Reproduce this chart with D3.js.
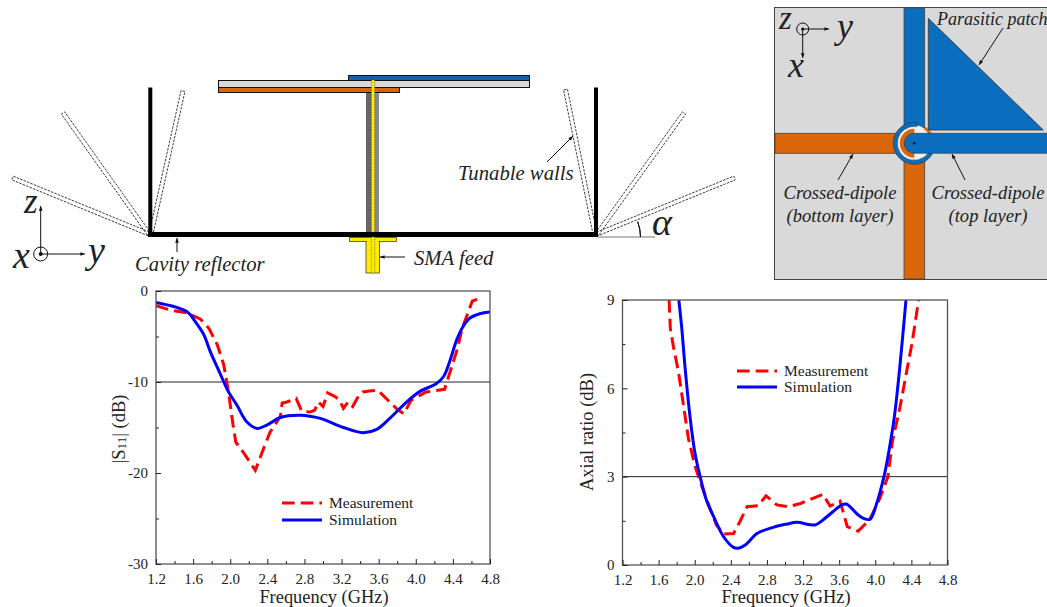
<!DOCTYPE html>
<html>
<head>
<meta charset="utf-8">
<script src="https://cdn.jsdelivr.net/npm/d3@7"></script>
<style>
  html, body { margin: 0; padding: 0; background: #fff; }
  svg { display: block; }
  text { font-family: "Liberation Serif", serif; fill: #222; }
  .ital { font-style: italic; }
</style>
</head>
<body>
<svg id="fig" width="1047" height="607"></svg>
<script>
// ==========================================
// DATA
// ==========================================
const s11SimFreq = [1.2, 1.535, 1.625, 1.715, 1.785, 1.89, 1.98, 2.07, 2.18, 2.29, 2.4, 2.54, 2.76, 2.97, 3.22, 3.43, 3.58, 3.72, 3.9, 4.05, 4.22, 4.3, 4.37, 4.44, 4.51, 4.58, 4.69, 4.8];
const s11SimDb = [-1.25, -2.27, -3.4, -4.8, -6.67, -9.05, -11.06, -12.5, -14.4, -15.1, -14.7, -13.9, -13.65, -14, -15, -15.57, -15.2, -14, -12.2, -11, -10.2, -9.4, -7.6, -5.4, -3.9, -3, -2.5, -2.3];
const s11MeasFreq = [1.2, 1.355, 1.535, 1.68, 1.77, 1.86, 1.93, 1.98, 2.03, 2.06, 2.16, 2.27, 2.36, 2.43, 2.54, 2.56, 2.61, 2.71, 2.77, 2.86, 2.91, 2.95, 3.0, 3.05, 3.13, 3.18, 3.22, 3.27, 3.32, 3.38, 3.43, 3.5, 3.59, 3.7, 3.79, 3.87, 3.95, 4.11, 4.31, 4.36, 4.45, 4.5, 4.58, 4.61, 4.7];
const s11MeasDb = [-1.6, -2.1, -2.4, -3.1, -4.1, -5.9, -8.1, -11, -14.7, -16.6, -18, -19.7, -17.3, -15.5, -13.8, -12.3, -12.2, -11.8, -13.2, -13.3, -13.1, -12.2, -12.7, -11.2, -11.6, -12, -12.9, -12.2, -12.7, -11.6, -11.1, -11, -10.9, -12, -12.9, -13.5, -12, -11.1, -10.8, -9.2, -6.3, -4.1, -1.9, -1.1, -0.8];

const arSimFreq = [1.824, 1.857, 1.894, 1.95, 2.0, 2.06, 2.13, 2.21, 2.32, 2.43, 2.48, 2.56, 2.69, 2.87, 3.02, 3.13, 3.33, 3.42, 3.53, 3.63, 3.68, 3.73, 3.81, 3.86, 3.94, 4.01, 4.1, 4.15, 4.21, 4.27, 4.34];
const arSimDb = [9, 8.03, 6.67, 4.98, 3.85, 3, 2.2, 1.64, 0.96, 0.6, 0.57, 0.68, 1.07, 1.28, 1.39, 1.45, 1.36, 1.53, 1.81, 2.04, 2.07, 1.95, 1.7, 1.6, 1.55, 2.04, 3.05, 3.85, 5, 6.67, 9];
const arMeasFreq = [1.716, 1.73, 1.765, 1.82, 1.875, 1.93, 2.0, 2.06, 2.17, 2.24, 2.325, 2.43, 2.5, 2.58, 2.7, 2.79, 2.91, 3.04, 3.17, 3.42, 3.5, 3.61, 3.69, 3.81, 3.94, 4.05, 4.14, 4.19, 4.27, 4.34, 4.41, 4.47, 4.48];
const arMeasDb = [9, 8.03, 7.4, 6.56, 5.43, 4.3, 3.39, 2.83, 1.92, 1.36, 1.05, 1.07, 1.47, 1.98, 2.01, 2.35, 2.04, 1.98, 2.09, 2.4, 2, 2.17, 1.3, 1.15, 1.55, 2.26, 3, 4.2, 5.3, 6.45, 7.58, 8.8, 9];

const freqTicks = [1.2, 1.6, 2.0, 2.4, 2.8, 3.2, 3.6, 4.0, 4.4, 4.8];
const freqMinorTicks = [1.4, 1.8, 2.2, 2.6, 3.0, 3.4, 3.8, 4.2, 4.6];
const s11Ticks = [0, -10, -20, -30];
const s11MinorTicks = [-5, -15, -25];
const arTicks = [0, 3, 6, 9];
const arMinorTicks = [1.5, 4.5, 7.5];
const legendLabels = ['Measurement', 'Simulation'];

const RED = '#ff0000', BLUE = '#0000ff', AXIS = '#555';
const PCB_BLUE = '#0a6dbd', PCB_ORANGE = '#d9660a', PCB_GREY = '#d9d9d9';

const svg = d3.select('#fig');
let clipId = 0;

// ==========================================
// SHARED HELPERS
// ==========================================
function label(g, x, y, str, size, opts = {}) {
  return g.append('text')
    .attr('x', x).attr('y', y)
    .attr('font-size', size)
    .attr('class', opts.plain ? null : 'ital')
    .attr('text-anchor', opts.anchor || 'start')
    .text(str);
}

function arrow(g, x1, y1, x2, y2, size = 5) {
  const a = Math.atan2(y2 - y1, x2 - x1);
  g.append('line')
    .attr('x1', x1).attr('y1', y1).attr('x2', x2).attr('y2', y2)
    .attr('stroke', '#111').attr('stroke-width', 1);
  const pts = [
    [x2, y2],
    [x2 - size * Math.cos(a - 0.38), y2 - size * Math.sin(a - 0.38)],
    [x2 - size * Math.cos(a + 0.38), y2 - size * Math.sin(a + 0.38)]
  ];
  g.append('polygon').attr('points', pts.join(' ')).attr('fill', '#111');
}

function originMark(g, cx, cy, r, dot) {
  g.append('circle').attr('cx', cx).attr('cy', cy).attr('r', r)
    .attr('fill', 'none').attr('stroke', '#111').attr('stroke-width', 1);
  g.append('circle').attr('cx', cx).attr('cy', cy).attr('r', dot).attr('fill', '#111');
}

// ==========================================
// CHARTS
// ==========================================
function drawChart(o) {
  const g = svg.append('g');
  const x = d3.scaleLinear().domain([1.2, 4.8]).range([o.left, o.right]);
  const y = d3.scaleLinear().domain(o.domain).range([o.bottom, o.top]);

  // curves first, the frame sits on top of them
  const id = 'clip' + (clipId++);
  g.append('clipPath').attr('id', id).append('rect')
    .attr('x', o.left).attr('y', o.top)
    .attr('width', o.right - o.left).attr('height', o.bottom - o.top);

  const measLine = d3.line()
    .x(d => x(d[0])).y(d => y(d[1]));
  const simLine = d3.line()
    .x(d => x(d[0])).y(d => y(d[1]))
    .curve(d3.curveCatmullRom.alpha(0.5));

  const plot = g.append('g').attr('clip-path', `url(#${id})`);
  plot.append('line')
    .attr('x1', x(1.2)).attr('x2', x(4.8))
    .attr('y1', y(o.refLine)).attr('y2', y(o.refLine))
    .attr('stroke', '#222').attr('stroke-width', 1);
  plot.append('path')
    .attr('d', measLine(d3.zip(o.measFreq, o.meas)))
    .attr('fill', 'none').attr('stroke', RED)
    .attr('stroke-width', 3).attr('stroke-dasharray', '12.7 6');
  plot.append('path')
    .attr('d', simLine(d3.zip(o.simFreq, o.sim)))
    .attr('fill', 'none').attr('stroke', BLUE).attr('stroke-width', 3);

  // frame
  g.append('rect')
    .attr('x', o.left).attr('y', o.top)
    .attr('width', o.right - o.left).attr('height', o.bottom - o.top)
    .attr('fill', 'none').attr('stroke', AXIS).attr('stroke-width', 1.3);

  // axes
  const xAxis = g.append('g').attr('transform', `translate(0,${o.bottom})`)
    .call(d3.axisBottom(x).tickValues(freqTicks).tickFormat(d3.format('.1f')).tickSize(-5).tickPadding(9));
  const xMinor = g.append('g').attr('transform', `translate(0,${o.bottom})`)
    .call(d3.axisBottom(x).tickValues(freqMinorTicks).tickFormat('').tickSize(-3));
  const yAxis = g.append('g').attr('transform', `translate(${o.left},0)`)
    .call(d3.axisLeft(y).tickValues(o.ticks).tickFormat(d => String(d)).tickSize(-5).tickPadding(8));
  const yMinor = g.append('g').attr('transform', `translate(${o.left},0)`)
    .call(d3.axisLeft(y).tickValues(o.minorTicks).tickFormat('').tickSize(-3));

  [xAxis, xMinor, yAxis, yMinor].forEach(a => {
    a.select('.domain').remove();
    a.selectAll('line').attr('stroke', '#222').attr('stroke-width', 1);
    a.selectAll('text')
      .attr('font-family', '"Liberation Serif", serif')
      .attr('font-size', 15).attr('fill', '#222');
  });

  // axis titles
  g.append('text')
    .attr('x', (o.left + o.right) / 2 + 1).attr('y', o.xTitleY)
    .attr('text-anchor', 'middle').attr('font-size', 18.4)
    .text('Frequency (GHz)');

  const yTitle = g.append('text')
    .attr('transform', `translate(${o.yTitleX},${o.yTitleY}) rotate(-90)`)
    .attr('text-anchor', 'middle').attr('font-size', 18.5);
  o.yTitle.forEach(part => {
    yTitle.append('tspan')
      .attr('font-size', part.small ? 13 : 18.5)
      .attr('baseline-shift', part.small ? '-1' : null)
      .text(part.t);
  });

  // legend
  const styles = [
    { color: RED, dash: '12.7 6' },
    { color: BLUE, dash: null }
  ];
  legendLabels.forEach((name, i) => {
    const ly = o.legendY[i];
    g.append('line')
      .attr('x1', o.legendX).attr('x2', o.legendX + 40)
      .attr('y1', ly).attr('y2', ly)
      .attr('stroke', styles[i].color).attr('stroke-width', 3)
      .attr('stroke-dasharray', styles[i].dash);
    g.append('text')
      .attr('x', o.legendX + 47).attr('y', ly + 5)
      .attr('font-size', 15.5)
      .text(name);
  });
}

drawChart({
  left: 156, right: 490, top: 291, bottom: 564,
  domain: [-30, 0],
  ticks: s11Ticks, minorTicks: s11MinorTicks, refLine: -10,
  simFreq: s11SimFreq, sim: s11SimDb,
  measFreq: s11MeasFreq, meas: s11MeasDb,
  xTitleY: 603, yTitleX: 125, yTitleY: 429,
  yTitle: [{ t: '|S' }, { t: '11', small: true }, { t: '| (dB)' }],
  legendX: 282, legendY: [503, 520]
});

drawChart({
  left: 622.5, right: 947.5, top: 300, bottom: 565,
  domain: [0, 9],
  ticks: arTicks, minorTicks: arMinorTicks, refLine: 3,
  simFreq: arSimFreq, sim: arSimDb,
  measFreq: arMeasFreq, meas: arMeasDb,
  xTitleY: 603, yTitleX: 593, yTitleY: 432,
  yTitle: [{ t: 'Axial ratio (dB)' }],
  legendX: 737, legendY: [371, 387]
});

// ==========================================
// SIDE VIEW SCHEMATIC
// ==========================================
function drawSideView() {
  const g = svg.append('g');

  const rect = (x0, y0, x1, y1, fill, stroke = 'none', sw = 1) =>
    g.append('rect')
      .attr('x', x0).attr('y', y0).attr('width', x1 - x0).attr('height', y1 - y0)
      .attr('fill', fill).attr('stroke', stroke).attr('stroke-width', sw);

  // dashed tilted walls, each from its hinge to its tip
  const wall = (px, py, tx, ty) => {
    const len = Math.hypot(tx - px, ty - py);
    const ang = Math.atan2(ty - py, tx - px) * 180 / Math.PI;
    g.append('rect')
      .attr('x', 0).attr('y', -2).attr('width', len).attr('height', 4)
      .attr('transform', `translate(${px},${py}) rotate(${ang})`)
      .attr('fill', 'none').attr('stroke', '#222')
      .attr('stroke-width', 0.8).attr('stroke-dasharray', '2.5 1.2');
  };
  wall(151, 234, 183, 91);
  wall(149, 234, 63, 113);
  wall(149, 234, 12.5, 178);
  wall(595, 234, 565.5, 89.5);
  wall(597, 234, 684, 113);
  wall(597, 234, 734.5, 178);

  // reflector and fixed walls
  rect(148, 232, 598, 237, '#000');
  rect(148.3, 87.5, 152.3, 236, '#000');
  rect(594, 87.5, 598, 236, '#000');

  // angle marker on the right side
  g.append('line')
    .attr('x1', 597).attr('x2', 655).attr('y1', 237).attr('y2', 237)
    .attr('stroke', '#777').attr('stroke-width', 1);
  g.append('path')
    .attr('d', d3.arc()({ innerRadius: 43.5, outerRadius: 43.5, startAngle: Math.PI / 2 - 0.36, endAngle: Math.PI / 2 }))
    .attr('transform', 'translate(597,237)')
    .attr('fill', 'none').attr('stroke', '#111').attr('stroke-width', 1);

  // coax post
  rect(366, 92, 372, 232, '#666');
  rect(372, 92, 379, 232, '#8a8a8a');

  // boards
  rect(218.5, 80.5, 529.5, 87.5, PCB_GREY, '#111', 1);
  rect(348.5, 75.5, 529.5, 80.5, '#1b5fa8', '#111', 1);
  rect(218.5, 87.5, 399.5, 92.5, PCB_ORANGE, '#111', 1);

  // inner conductor
  rect(371.3, 80, 374.7, 232, '#ffec00', '#222', 0.5).attr('stroke-dasharray', '1.5 1');

  // SMA feed
  rect(366, 241, 379.5, 273, '#ffec00', '#444', 0.8);
  rect(349.5, 237.5, 396.5, 241.5, '#ffec00', '#444', 0.8);
  rect(367, 240, 378.5, 243, '#ffec00');
  rect(371.3, 237, 374.7, 273, '#ffec00', '#444', 0.5).attr('stroke-dasharray', '1.5 1');

  // annotations
  arrow(g, 405, 257, 380, 257);
  label(g, 414, 265, 'SMA feed', 20.7);
  arrow(g, 547, 162, 573, 136);
  label(g, 458, 180, 'Tunable walls', 20.7);
  arrow(g, 177, 252, 177, 238);
  label(g, 135, 271, 'Cavity reflector', 20.7);
  label(g, 652, 235, 'α', 38);

  // coordinate system
  arrow(g, 40.7, 254, 40.7, 206);
  arrow(g, 40.7, 254, 85, 254);
  originMark(g, 40.7, 254, 7, 2);
  label(g, 24, 213, 'z', 35);
  label(g, 13, 268, 'x', 38);
  label(g, 88, 263, 'y', 38);
}

// ==========================================
// TOP VIEW SCHEMATIC
// ==========================================
function drawTopView() {
  const g = svg.append('g');
  const cx = 914.3, cy = 143.3;

  g.append('rect')
    .attr('x', 774.5).attr('y', 7.5).attr('width', 280).attr('height', 272)
    .attr('fill', PCB_GREY).attr('stroke', '#444').attr('stroke-width', 1);

  const bar = (x0, y0, x1, y1, fill) =>
    g.append('rect')
      .attr('x', x0).attr('y', y0).attr('width', x1 - x0).attr('height', y1 - y0)
      .attr('fill', fill).attr('stroke', '#444').attr('stroke-width', 0.8);

  // bottom layer dipole
  bar(775, 133.3, 910, 153.3, PCB_ORANGE);
  bar(904, 150, 924.7, 279, PCB_ORANGE);

  // top layer vertical arm
  bar(904, 8, 924.7, 135, PCB_BLUE);

  // slot in the feed
  g.append('circle').attr('cx', cx).attr('cy', cy).attr('r', 18).attr('fill', '#f0f0f0');
  g.append('path')
    .attr('d', d3.arc()({ innerRadius: 0, outerRadius: 14.5, startAngle: Math.PI, endAngle: 2 * Math.PI }))
    .attr('transform', `translate(${cx},${cy})`)
    .attr('fill', PCB_ORANGE);
  g.append('path')
    .attr('d', d3.arc()({ innerRadius: 17, outerRadius: 20, startAngle: 0.6, endAngle: 1.25 }))
    .attr('transform', `translate(${cx},${cy})`)
    .attr('fill', PCB_ORANGE);

  // ring and top layer horizontal arm with its rounded end
  g.append('path')
    .attr('d', d3.arc()({ innerRadius: 17, outerRadius: 21, startAngle: Math.PI / 2 + 0.25, endAngle: 2 * Math.PI + 0.15 }))
    .attr('transform', `translate(${cx},${cy})`)
    .attr('fill', PCB_BLUE).attr('stroke', '#333').attr('stroke-width', 0.6);
  const arm = d3.path();
  arm.moveTo(1060, cy - 10);
  arm.lineTo(cx, cy - 10);
  arm.arc(cx, cy, 10, -Math.PI / 2, Math.PI / 2, true);
  arm.lineTo(1060, cy + 10);
  arm.closePath();
  g.append('path').attr('d', arm.toString())
    .attr('fill', PCB_BLUE).attr('stroke', '#333').attr('stroke-width', 0.6);
  g.append('circle').attr('cx', cx).attr('cy', cy).attr('r', 1.4).attr('fill', '#111');

  // parasitic patch
  g.append('polygon')
    .attr('points', [[928.3, 18.3], [928.3, 130], [1043.3, 130]].join(' '))
    .attr('fill', PCB_BLUE).attr('stroke', '#333').attr('stroke-width', 0.8);

  // annotations
  arrow(g, 1003, 28, 979, 65);
  label(g, 937, 25, 'Parasitic patch', 18);
  arrow(g, 838, 180, 853, 154);
  arrow(g, 965, 180, 952, 154);
  label(g, 840, 199, 'Crossed-dipole', 18.6, { anchor: 'middle' });
  label(g, 840, 222, '(bottom layer)', 18.6, { anchor: 'middle' });
  label(g, 988, 199, 'Crossed-dipole', 18.6, { anchor: 'middle' });
  label(g, 988, 222, '(top layer)', 18.6, { anchor: 'middle' });

  // coordinate system
  arrow(g, 802.7, 29, 829, 29);
  arrow(g, 802.7, 29, 802.7, 58);
  originMark(g, 802.7, 29, 6, 1.6);
  label(g, 779, 29, 'z', 33);
  label(g, 837, 38, 'y', 36);
  label(g, 788, 77, 'x', 36);
}

drawSideView();
drawTopView();
</script>
</body>
</html>
